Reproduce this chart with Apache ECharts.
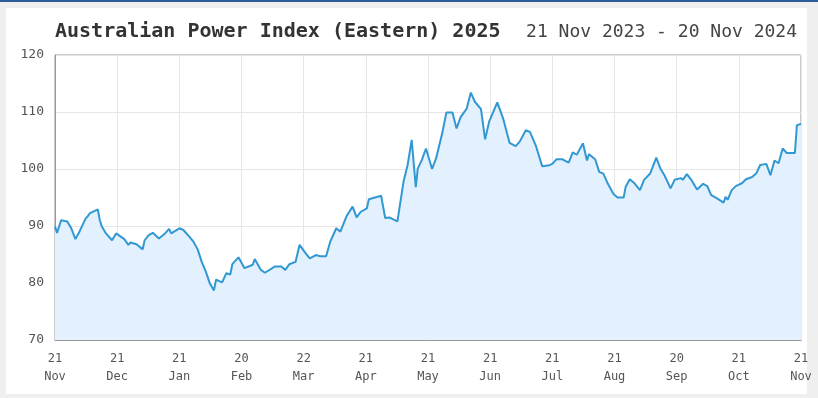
<!DOCTYPE html>
<html>
<head>
<meta charset="utf-8">
<script src="https://cdn.jsdelivr.net/npm/echarts@6/dist/echarts.min.js"></script>
<style>
html,body{margin:0;padding:0;background:#efefef;}
#c{width:818px;height:398px;}
</style>
</head>
<body>
<div id="c"></div>
<script>
// Days since 21 Nov 2023
var dayOffsets = [0,1,3,6,8,10,12,15,16,17,21,22,23,25,28,30,34,36,37,40,43,44,46,48,51,54,56,57,61,63,66,68,70,72,74,76,78,79,82,84,86,87,90,93,97,98,101,103,107,108,111,113,115,118,120,123,125,128,130,133,135,138,140,143,146,148,150,153,154,157,160,162,164,168,171,173,175,177,178,180,182,185,187,190,192,195,197,199,202,204,206,209,211,213,217,220,223,226,228,231,233,236,239,242,244,246,249,252,254,256,259,261,262,265,267,269,271,274,276,279,280,282,284,287,289,292,295,297,299,302,304,307,308,310,312,315,318,320,322,325,328,329,330,332,334,337,339,342,344,346,349,351,353,355,357,359,363,364,366];
var indexValues = [89.9,88.8,91.0,90.8,89.6,87.7,89.0,91.3,91.7,92.2,92.9,91.0,89.9,88.7,87.5,88.7,87.7,86.7,87.1,86.8,85.9,87.5,88.4,88.8,87.8,88.7,89.5,88.7,89.6,89.3,88.1,87.2,85.9,83.7,82.0,79.9,78.7,80.6,80.1,81.7,81.5,83.3,84.5,82.6,83.2,84.2,82.3,81.8,82.7,82.9,82.9,82.3,83.3,83.7,86.7,85.2,84.3,84.9,84.7,84.7,87.2,89.6,89.0,91.7,93.4,91.5,92.5,93.1,94.7,95.0,95.3,91.4,91.5,90.8,97.8,100.7,105.1,96.8,100.1,101.6,103.6,100.0,101.9,106.3,109.9,109.9,107.1,109.1,110.6,113.4,111.8,110.5,105.2,108.3,111.7,108.7,104.6,104.0,104.8,106.8,106.5,104.0,100.5,100.6,100.9,101.7,101.7,101.1,102.9,102.5,104.5,101.5,102.6,101.7,99.5,99.2,97.6,95.6,95.0,95.0,96.9,98.2,97.6,96.3,98.1,99.2,102.0,100.1,98.9,96.6,98.1,98.4,98.1,99.1,98.2,96.4,97.4,97.0,95.4,94.8,94.1,95.1,94.6,96.3,97.0,97.5,98.2,98.6,99.2,100.7,100.9,98.9,101.5,101.0,103.6,102.8,102.8,107.7,107.9];
var tickDays = ['21','21','21','20','22','21','21','21','21','21','20','21','21'];
var tickMonths = ['Nov','Dec','Jan','Feb','Mar','Apr','May','Jun','Jul','Aug','Sep','Oct','Nov'];
var titleText = 'Australian Power Index (Eastern) 2025';
var rangeText = '21 Nov 2023 - 20 Nov 2024';

var seriesData = dayOffsets.map(function(d,i){return [d, indexValues[i]];});
var font = '"DejaVu Sans Mono", monospace';
var chart = echarts.init(document.getElementById('c'));
chart.setOption({
  backgroundColor: '#efefef',
  animation: false,
  graphic: [
    {type:'rect', shape:{x:0,y:0,width:818,height:2}, style:{fill:'#2d5d96'}, z:-10},
    {type:'rect', shape:{x:6,y:8,width:801,height:386}, style:{fill:'#ffffff'}, z:-10},
    {type:'text', left:55, top:22, style:{text:titleText, font:'bold 20px ' + font, fill:'#333'}},
    {type:'text', right:21, top:23, style:{text:rangeText, font:'18px ' + font, fill:'#444', textAlign:'right'}}
  ],
  grid: {left:55, right:17, top:55, bottom:58, show:true, borderColor:'#999', borderWidth:1, backgroundColor:'transparent'},
  xAxis: {
    type:'value', min:0, max:366, interval:30.5,
    axisLine:{show:true, lineStyle:{color:'#999'}},
    axisTick:{show:false},
    splitLine:{show:true, lineStyle:{color:'#e6e6e6'}},
    axisLabel:{
      color:'#555', fontFamily:font, fontSize:12, lineHeight:18, margin:10,
      formatter:function(v){var k=Math.round(v/30.5); return tickDays[k]+'\n'+tickMonths[k];}
    }
  },
  yAxis: {
    type:'value', min:70, max:120, interval:10,
    axisLine:{show:true, lineStyle:{color:'#999'}},
    axisTick:{show:false},
    splitLine:{show:true, lineStyle:{color:'#e6e6e6'}},
    axisLabel:{color:'#555', fontFamily:font, fontSize:13, margin:11}
  },
  series: [{
    type:'line', data:seriesData, showSymbol:false, smooth:false,
    lineStyle:{color:'#3198d2', width:2},
    areaStyle:{color:'#e3f0fd', opacity:1, origin:'start'}
  }]
});
</script>
</body>
</html>
